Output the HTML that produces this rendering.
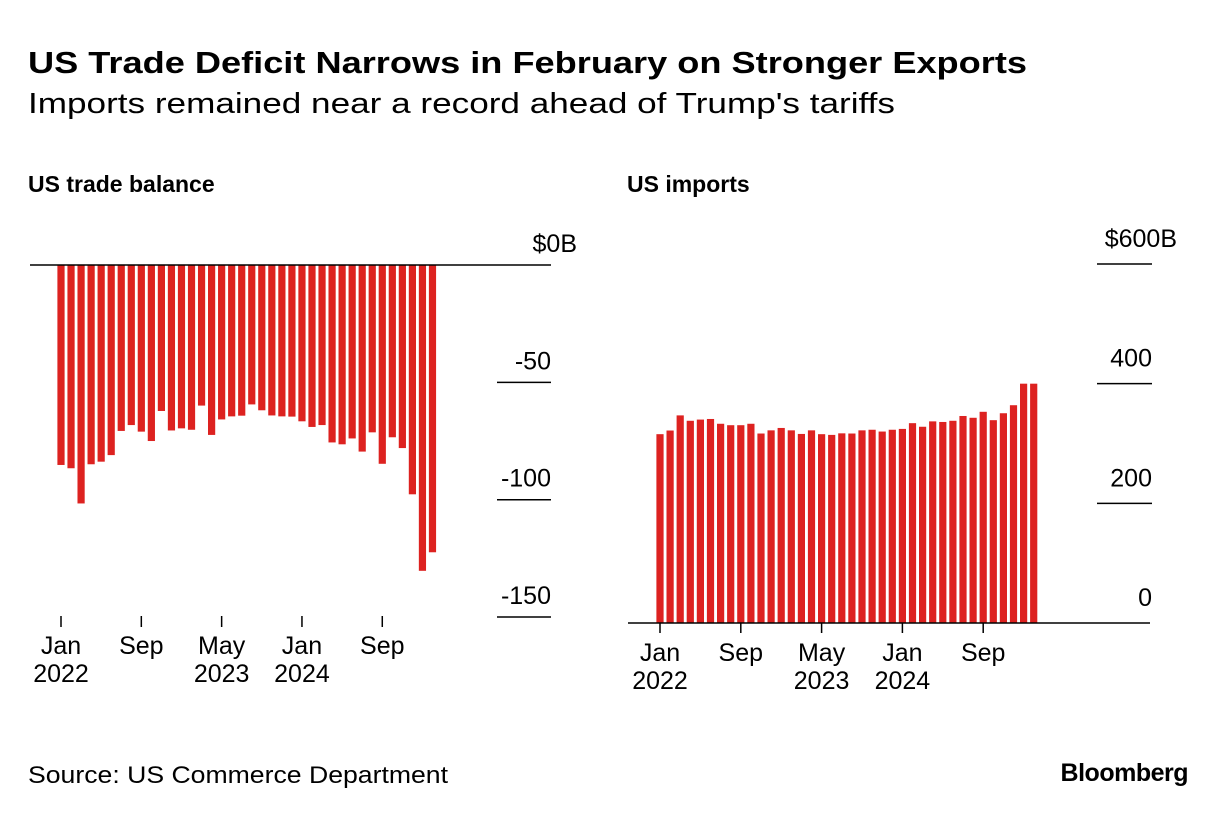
<!DOCTYPE html>
<html><head><meta charset="utf-8"><style>
html,body{margin:0;padding:0;background:#fff;}
svg{display:block;font-family:"Liberation Sans",Arial,sans-serif;}
</style></head><body>
<svg id="chart" width="1227" height="816" viewBox="0 0 1227 816">
<text x="28" y="73" font-size="31" font-weight="bold" fill="#000" textLength="999" lengthAdjust="spacingAndGlyphs">US Trade Deficit Narrows in February on Stronger Exports</text>
<text x="28" y="113" font-size="29" fill="#000" textLength="867" lengthAdjust="spacingAndGlyphs">Imports remained near a record ahead of Trump's tariffs</text>
<text x="28" y="192" font-size="23" font-weight="bold" fill="#000">US trade balance</text>
<text x="627" y="192" font-size="23" font-weight="bold" fill="#000">US imports</text>
<g id="left"></g>
<g id="right"></g>
<text x="28" y="783" font-size="24" fill="#000" textLength="420" lengthAdjust="spacingAndGlyphs">Source: US Commerce Department</text>
<text x="1188" y="781" font-size="25" font-weight="bold" fill="#000" text-anchor="end" letter-spacing="-0.5">Bloomberg</text>
</svg>
<script>
const balanceValues = [-85.2,-86.6,-101.6,-84.9,-83.8,-81,-70.7,-68.2,-71,-75,-62.2,-70.5,-69.6,-70.2,-59.9,-72.4,-65.8,-64.5,-64.2,-59.4,-61.9,-64.1,-64.5,-64.6,-66.6,-69,-68.2,-75.6,-76.4,-73.9,-79.5,-71.3,-84.7,-73.4,-78,-97.7,-130.3,-122.4];
const importValues = [315.6,321.7,347,338,340,341,333,330.6,330.6,333,316.7,322,326,322,316,322,315.6,314.4,317,316.7,322,323,320,323,324.4,334,328,337,336,338,346,343,353,339,350.6,364,400,400];
const balanceTicks = [0,-50,-100,-150];
const balanceTickLabels = ["$0B","-50","-100","-150"];
const importTicks = [600,400,200,0];
const importTickLabels = ["$600B","400","200","0"];
const xTickIndex = [0,8,16,24,32];
const xTickLine1 = ["Jan","Sep","May","Jan","Sep"];
const xTickLine2 = ["2022","","2023","2024",""];

const NS="http://www.w3.org/2000/svg";
function mk(parent,tag,attrs){const e=document.createElementNS(NS,tag);for(const k in attrs)e.setAttribute(k,attrs[k]);parent.appendChild(e);return e;}

// left panel
const L=document.getElementById('left');
const lx=i=>61+i*10.04;
const ly=v=>265-v*2.347;
balanceTicks.forEach((t,i)=>{
  if(i>0){const ln=mk(L,'line',{x1:497,x2:551,y1:ly(t),y2:ly(t),stroke:'#000','stroke-width':1.5});
  
  }
  const tx=mk(L,'text',{x:i===0?577:551,y:ly(t)-13,'font-size':25,'text-anchor':'end',fill:'#000'});
  tx.textContent=balanceTickLabels[i];
  
  
});
balanceValues.forEach((v,i)=>{
  const r=mk(L,'rect',{x:lx(i)-3.6,y:ly(0),width:7.2,height:ly(v)-ly(0),fill:'#dd2220'});
  
  
});
const z=mk(L,'line',{x1:30,x2:551,y1:ly(0),y2:ly(0),stroke:'#000','stroke-width':1.5});


xTickIndex.forEach((ix,k)=>{
  const t=mk(L,'line',{x1:lx(ix),x2:lx(ix),y1:616,y2:627,stroke:'#000','stroke-width':1.5});
  
  
  const a=mk(L,'text',{x:lx(ix),y:654,'font-size':25,'text-anchor':'middle',fill:'#000'});
  a.textContent=xTickLine1[k];
  
  
  if(xTickLine2[k]){const b=mk(L,'text',{x:lx(ix),y:682,'font-size':25,'text-anchor':'middle',fill:'#000'});
  b.textContent=xTickLine2[k];
  
  }
});

// right panel
const R=document.getElementById('right');
const rx=i=>660+i*10.1;
const ry=v=>623-v*0.5983;
importTicks.forEach((t,i)=>{
  if(t!==0){const ln=mk(R,'line',{x1:1097,x2:1152,y1:ry(t),y2:ry(t),stroke:'#000','stroke-width':1.5});
  
  }
  const tx=mk(R,'text',{x:i===0?1177:1152,y:ry(t)-17,'font-size':25,'text-anchor':'end',fill:'#000'});
  tx.textContent=importTickLabels[i];
  
  
});
importValues.forEach((v,i)=>{
  const r=mk(R,'rect',{x:rx(i)-3.6,y:ry(v),width:7.2,height:ry(0)-ry(v),fill:'#dd2220'});
  
  
});
const z2=mk(R,'line',{x1:628,x2:1150,y1:ry(0),y2:ry(0),stroke:'#000','stroke-width':1.5});


xTickIndex.forEach((ix,k)=>{
  const t=mk(R,'line',{x1:rx(ix),x2:rx(ix),y1:623,y2:633,stroke:'#000','stroke-width':1.5});
  
  
  const a=mk(R,'text',{x:rx(ix),y:661,'font-size':25,'text-anchor':'middle',fill:'#000'});
  a.textContent=xTickLine1[k];
  
  
  if(xTickLine2[k]){const b=mk(R,'text',{x:rx(ix),y:689,'font-size':25,'text-anchor':'middle',fill:'#000'});
  b.textContent=xTickLine2[k];
  
  }
});
</script>
</body></html>
